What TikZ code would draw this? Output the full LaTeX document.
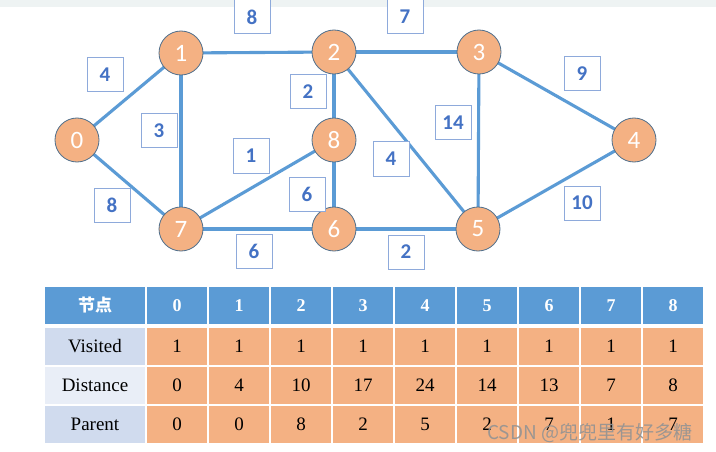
\documentclass[tikz,border=0pt]{standalone}
\usepackage{fontspec}
\setmainfont{Liberation Serif}
\newfontfamily\calibri{Carlito}
\newfontfamily\cjk{Noto Sans CJK SC}
\definecolor{edgeblue}{HTML}{5B9BD5}
\definecolor{nodefill}{HTML}{F4B183}
\definecolor{nodeborder}{HTML}{4F6F8C}
\definecolor{labeltext}{HTML}{4472C4}
\definecolor{labelborder}{HTML}{8EAADB}
\definecolor{hdrblue}{HTML}{5B9BD5}
\definecolor{rowA}{HTML}{D0DBEE}
\definecolor{rowB}{HTML}{E9EEF7}
\definecolor{cellor}{HTML}{F4B183}
\definecolor{topband}{HTML}{EEF3F3}
\tikzset{
  vtx/.style={circle, fill=nodefill, draw=nodeborder, line width=0.8pt, minimum size=44pt, inner sep=0pt, text=white, font=\calibri\fontsize{25}{25}\selectfont},
  edge/.style={draw=edgeblue, line width=3.1pt},
  wbox/.style={draw=labelborder, fill=white, line width=1pt, minimum width=36pt, minimum height=34pt, inner sep=0pt, text=labeltext, font=\calibri\bfseries\fontsize{21}{21}\selectfont},
  celltext/.style={font=\fontsize{19}{19}\selectfont, text=black},
  hdrtext/.style={font=\bfseries\fontsize{18}{18}\selectfont, text=white},
}
\begin{document}
\begin{tikzpicture}[x=1pt,y=-1pt]
\useasboundingbox (0,0) rectangle (716,452);
\fill[white] (0,0) rectangle (716,452);
\fill[topband] (0,0) rectangle (716,7);
% vertices
\foreach \n/\x/\y in {0/77/140,1/181/53,2/334/52,3/479/52,4/634/140,5/478/229,6/334/229,7/181/229,8/334/140}
  \coordinate (c\n) at (\x,\y);
% edges
\foreach \a/\b in {0/1,0/7,1/2,1/7,2/3,2/8,2/5,3/5,3/4,4/5,7/8,8/6,7/6,6/5}
  \draw[edge] (c\a) -- (c\b);
\foreach \n in {0,...,8}
  \node[vtx] (v\n) at (c\n) {\n};
% weights
\node[wbox] (w12) at (252,17) {8};
\node[wbox] (w23) at (405,17) {7};
\node[wbox] (w01) at (105,75) {4};
\node[wbox] (w17) at (159,131) {3};
\node[wbox] (w28) at (308,92) {2};
\node[wbox] (w78) at (251,156) {1};
\node[wbox] (w86) at (307,194) {6};
\node[wbox] (w07) at (112,205) {8};
\node[wbox] (w76) at (254,251) {6};
\node[wbox] (w25) at (391,159) {4};
\node[wbox] (w35) at (453,123) {14};
\node[wbox] (w34) at (582,74) {9};
\node[wbox] (w45) at (582,203) {10};
\node[wbox] (w65) at (406,252) {2};
% table header
\fill[hdrblue] (44,286) rectangle (146,325);
\draw[white, line width=1.6pt] (44,286) rectangle (146,325);
\node[hdrtext, font=\cjk\bfseries\fontsize{17}{17}\selectfont] (h) at (95,305.5) {节点};
\foreach \i in {0,...,8}{
  \pgfmathsetmacro{\xa}{146+62*\i}
  \pgfmathsetmacro{\xb}{146+62*(\i+1)}
  \pgfmathsetmacro{\xm}{146+62*\i+31}
  \fill[hdrblue] (\xa,286) rectangle (\xb,325);
  \draw[white, line width=1.6pt] (\xa,286) rectangle (\xb,325);
  \node[hdrtext] (h\i) at (\xm,306) {\i};
}
% rows
\foreach \r/\ya/\yb/\lab/\col/\vals in {
  1/327/366/Visited/rowA/{1,1,1,1,1,1,1,1,1},
  2/366/405/Distance/rowB/{0,4,10,17,24,14,13,7,8},
  3/405/444/Parent/rowA/{0,0,8,2,5,2,7,1,7}}{
  \fill[fill=\col] (44,\ya) rectangle (146,\yb);
  \draw[white, line width=1.6pt] (44,\ya) rectangle (146,\yb);
  \node[celltext] (l\r) at (95,{(\ya+\yb)/2}) {\lab};
  \foreach \v [count=\k from 0] in \vals {
    \pgfmathsetmacro{\xa}{146+62*\k}
    \pgfmathsetmacro{\xb}{146+62*(\k+1)}
    \pgfmathsetmacro{\xm}{146+62*\k+31}
    \fill[cellor] (\xa,\ya) rectangle (\xb,\yb);
    \draw[white, line width=1.6pt] (\xa,\ya) rectangle (\xb,\yb);
    \node[celltext] (d\r\k) at (\xm,{(\ya+\yb)/2}) {\v};
  }
}
% watermark
\node[anchor=west, inner sep=0pt, text=gray!85, opacity=0.9, font=\cjk\fontsize{19}{19}\selectfont] (wm) at (487,433) {CSDN @兜兜里有好多糖};
\end{tikzpicture}
\end{document}
